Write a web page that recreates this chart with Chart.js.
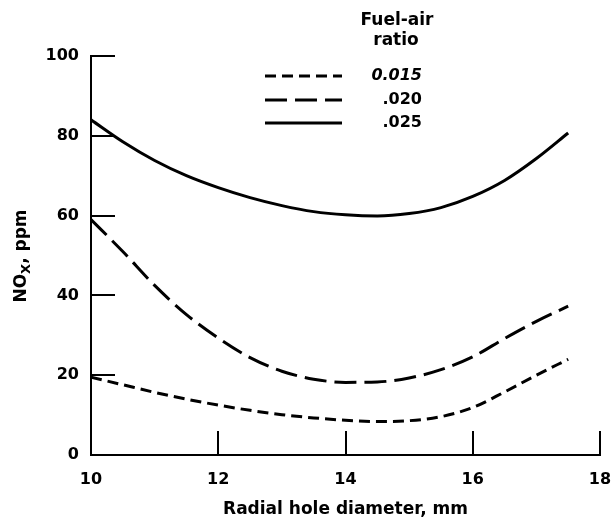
<!DOCTYPE html>
<html><head><meta charset="utf-8">
<script src="https://cdn.jsdelivr.net/npm/chart.js@4/dist/chart.umd.min.js"></script>
<style>html,body{margin:0;padding:0;background:#fff}#wrap{width:613px;height:520px;position:relative}</style>
</head><body><div id="wrap"><canvas id="c" width="613" height="520"></canvas></div>
<script>
const diameters = [10, 10.5, 11, 11.5, 12, 12.5, 13, 13.5, 14, 14.5, 15, 15.5, 16, 16.5, 17, 17.5];
const nox015 = [19.5, 17.6, 15.7, 14.0, 12.5, 11.2, 10.1, 9.3, 8.7, 8.4, 8.6, 9.6, 11.9, 15.8, 20.0, 24.0];
const nox020 = [59.0, 51.0, 42.5, 35.2, 29.3, 24.4, 21.0, 19.0, 18.2, 18.3, 19.3, 21.4, 24.6, 29.2, 33.5, 37.3];
const nox025 = [84.0, 78.5, 73.8, 70.0, 67.0, 64.5, 62.5, 61.0, 60.2, 59.9, 60.5, 62.0, 64.8, 68.8, 74.3, 80.7];
const seriesLabels = ['0.015', '.020', '.025'];
const legendTitle = ['Fuel-air', 'ratio'];
const xTicks = [10, 12, 14, 16, 18];
const yTicks = [0, 20, 40, 60, 80, 100];
const xTitle = 'Radial hole diameter, mm';
const yTitleMain = 'NO', yTitleSub = 'X', yTitleRest = ', ppm';

const FONT = '"DejaVu Sans", "Liberation Sans", Arial, sans-serif';
const dashes = [[11, 6], [22, 8], []];
const seriesData = [nox015, nox020, nox025];

const decor = {
  id: 'decor',
  afterDraw(chart) {
    const {ctx, scales: {x, y}} = chart;
    ctx.save();
    ctx.strokeStyle = '#000';
    ctx.fillStyle = '#000';
    ctx.lineWidth = 2;
    const L = 24;
    xTicks.forEach(v => {
      const px = Math.round(x.getPixelForValue(v));
      ctx.beginPath(); ctx.moveTo(px, y.bottom); ctx.lineTo(px, y.bottom - L); ctx.stroke();
    });
    yTicks.forEach(v => {
      const py = Math.round(y.getPixelForValue(v));
      ctx.beginPath(); ctx.moveTo(x.left, py); ctx.lineTo(x.left + L, py); ctx.stroke();
    });
    // legend
    ctx.font = 'bold 17px ' + FONT;
    ctx.textAlign = 'center';
    ctx.textBaseline = 'middle';
    ctx.fillText(legendTitle[0], 397, 21);
    ctx.fillText(legendTitle[1], 396, 41);
    const ys = [76, 100, 123];
    ctx.lineWidth = 3;
    seriesLabels.forEach((lab, i) => {
      ctx.setLineDash(dashes[i]);
      ctx.beginPath(); ctx.moveTo(265, ys[i]); ctx.lineTo(342, ys[i]); ctx.stroke();
      ctx.setLineDash([]);
      ctx.font = (i === 0 ? 'italic ' : '') + 'bold 16px ' + FONT;
      ctx.textAlign = 'right';
      ctx.fillText(lab, 422, ys[i]);
    });
    // y title with subscript
    ctx.translate(20, 256);
    ctx.rotate(-Math.PI / 2);
    const f1 = 'bold 17px ' + FONT, f2 = 'bold 13px ' + FONT;
    ctx.font = f1; const w1 = ctx.measureText(yTitleMain).width;
    const w3 = ctx.measureText(yTitleRest).width;
    ctx.font = f2; const w2 = ctx.measureText(yTitleSub).width;
    const total = w1 + w2 + w3;
    let sx = -total / 2;
    ctx.textAlign = 'left';
    ctx.textBaseline = 'alphabetic';
    ctx.font = f1; ctx.fillText(yTitleMain, sx, 6); sx += w1;
    ctx.font = f2; ctx.fillText(yTitleSub, sx, 10); sx += w2;
    ctx.font = f1; ctx.fillText(yTitleRest, sx, 6);
    ctx.restore();
  }
};

new Chart(document.getElementById('c'), {
  type: 'line',
  data: {
    datasets: seriesData.map((arr, i) => ({
      label: seriesLabels[i],
      data: diameters.map((d, j) => ({x: d, y: arr[j]})),
      borderColor: '#000',
      borderWidth: 3,
      borderDash: dashes[i],
      pointRadius: 0,
      fill: false,
      cubicInterpolationMode: 'monotone'
    }))
  },
  options: {
    responsive: false,
    animation: false,
    devicePixelRatio: 1,
    layout: {padding: {top: 56, right: 13, left: 0, bottom: 0}},
    plugins: {legend: {display: false}, tooltip: {enabled: false}},
    scales: {
      x: {
        type: 'linear', min: 10, max: 18,
        afterBuildTicks: s => { s.ticks = xTicks.map(v => ({value: v})); },
        afterFit: s => { s.height = 65; s.paddingLeft = 0; s.paddingRight = 0; },
        grid: {display: false},
        border: {display: true, color: '#000', width: 2},
        ticks: {color: '#000', font: {family: FONT, size: 16, weight: 'bold'}, padding: 7, maxRotation: 0},
        title: {display: true, text: xTitle, color: '#000', font: {family: FONT, size: 17, weight: 'bold'}, padding: {top: 7, bottom: 0}}
      },
      y: {
        type: 'linear', min: 0, max: 100,
        afterBuildTicks: s => { s.ticks = yTicks.map(v => ({value: v})); },
        afterFit: s => { s.width = 91; s.paddingTop = 0; s.paddingBottom = 0; },
        grid: {display: false},
        border: {display: true, color: '#000', width: 2},
        ticks: {color: '#000', font: {family: FONT, size: 16, weight: 'bold'}, padding: 4}
      }
    }
  },
  plugins: [decor]
});
</script></body></html>
